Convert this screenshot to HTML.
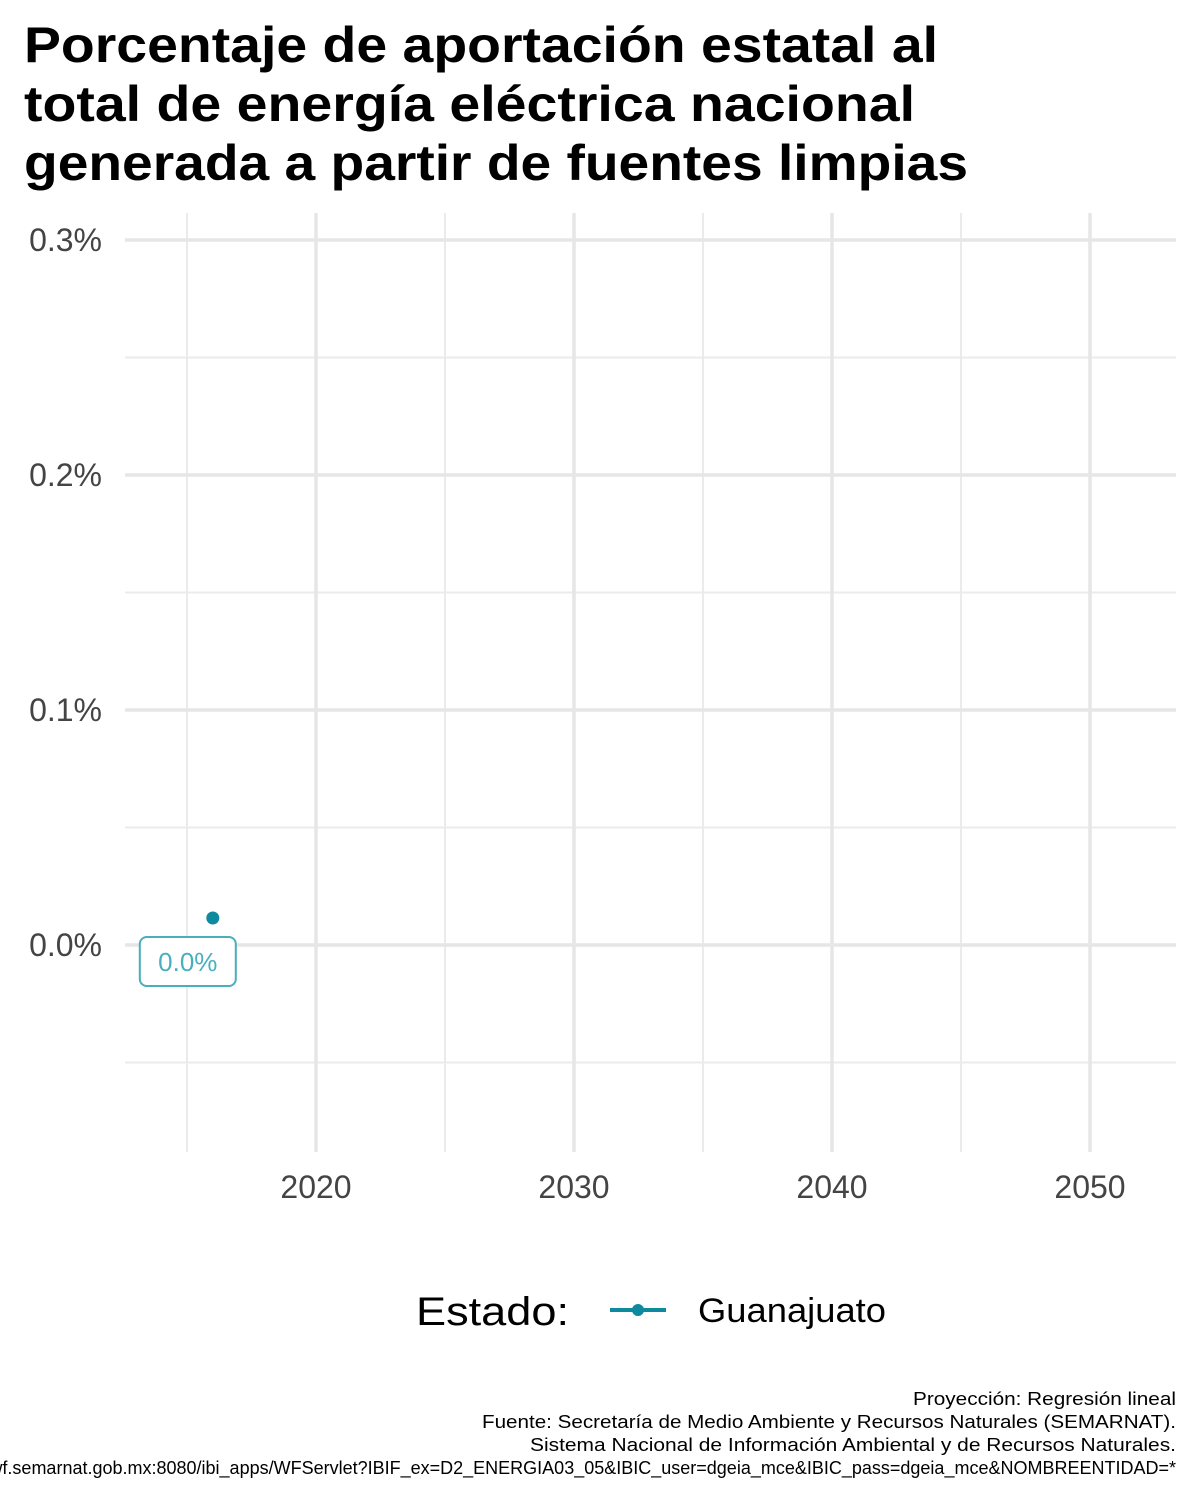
<!DOCTYPE html>
<html><head><meta charset="utf-8">
<style>
html,body{margin:0;padding:0;background:#fff;}
svg{display:block;font-family:"Liberation Sans",sans-serif;}
</style></head>
<body>
<svg id="chart" width="1200" height="1500" viewBox="0 0 1200 1500" xmlns="http://www.w3.org/2000/svg">
<g font-weight="bold" font-size="50" fill="#000">
<text x="24" y="62" textLength="914" lengthAdjust="spacingAndGlyphs">Porcentaje de aportación estatal al</text>
<text x="24" y="121" textLength="891" lengthAdjust="spacingAndGlyphs">total de energía eléctrica nacional</text>
<text x="24" y="180" textLength="944" lengthAdjust="spacingAndGlyphs">generada a partir de fuentes limpias</text>
</g>
<g id="grid"></g>
<g id="yticks" font-size="32" fill="#444" text-anchor="end"></g>
<g id="xticks" font-size="32" fill="#444" text-anchor="middle"></g>
<g id="marks"></g>
<g>
<text x="416" y="1325" font-size="40" fill="#000" textLength="153" lengthAdjust="spacingAndGlyphs">Estado:</text>
<line x1="610" y1="1310" x2="666" y2="1310" stroke="#0e8a9e" stroke-width="4"/>
<circle cx="638" cy="1310" r="6" fill="#0e8a9e"/>
<text x="698" y="1322" font-size="34" fill="#000" textLength="188" lengthAdjust="spacingAndGlyphs">Guanajuato</text>
</g>
<g font-size="18" fill="#000" text-anchor="end">
<text x="1176" y="1405" textLength="263" lengthAdjust="spacingAndGlyphs">Proyección: Regresión lineal</text>
<text x="1176" y="1428" textLength="694" lengthAdjust="spacingAndGlyphs">Fuente: Secretaría de Medio Ambiente y Recursos Naturales (SEMARNAT).</text>
<text x="1176" y="1451" textLength="646" lengthAdjust="spacingAndGlyphs">Sistema Nacional de Información Ambiental y de Recursos Naturales.</text>
<text x="1176" y="1474">http://dgeiawf.semarnat.gob.mx:8080/ibi_apps/WFServlet?IBIF_ex=D2_ENERGIA03_05&amp;IBIC_user=dgeia_mce&amp;IBIC_pass=dgeia_mce&amp;NOMBREENTIDAD=*</text>
</g>
</svg>
<script>
const years = [2016];
const values = [0.0115];
const labels = ["0.0%"];
const yTicks = [0, 0.1, 0.2, 0.3];
const yTickLabels = ["0.0%", "0.1%", "0.2%", "0.3%"];
const yMinor = [-0.05, 0.05, 0.15, 0.25];
const xTicks = [2020, 2030, 2040, 2050];
const xTickLabels = ["2020", "2030", "2040", "2050"];
const xMinor = [2015, 2025, 2035, 2045];

const NS = "http://www.w3.org/2000/svg";
const xs = y => 316 + (y - 2020) * 25.8;
const ys = v => 945 - v * 2350;
const L = 125, R = 1176, T = 213, B = 1152;
function mk(tag, attrs, parent) {
  const e = document.createElementNS(NS, tag);
  for (const k in attrs) e.setAttribute(k, attrs[k]);
  parent.appendChild(e);
  return e;
}
const grid = document.getElementById("grid");
yMinor.forEach(v => {
  const l = mk("line", {x1: L, x2: R, y1: ys(v), y2: ys(v), stroke: "#ebebeb", "stroke-width": 2}, grid);
  
  
});
xMinor.forEach(v => {
  const l = mk("line", {x1: xs(v), x2: xs(v), y1: T, y2: B, stroke: "#ebebeb", "stroke-width": 2}, grid);
  
  
});
yTicks.forEach(v => {
  const l = mk("line", {x1: L, x2: R, y1: ys(v), y2: ys(v), stroke: "#e6e6e6", "stroke-width": 3.5}, grid);
  
  
});
xTicks.forEach(v => {
  const l = mk("line", {x1: xs(v), x2: xs(v), y1: T, y2: B, stroke: "#e6e6e6", "stroke-width": 3.5}, grid);
  
  
});
const yt = document.getElementById("yticks");
yTicks.forEach((v, i) => {
  const t = mk("text", {x: 102, y: ys(v) + 11}, yt);
  t.textContent = yTickLabels[i];
  
  
});
const xt = document.getElementById("xticks");
xTicks.forEach((v, i) => {
  const t = mk("text", {x: xs(v), y: 1198}, xt);
  t.textContent = xTickLabels[i];
  
  
});
const marks = document.getElementById("marks");
years.forEach((yr, i) => {
  const c = mk("circle", {cx: xs(yr), cy: ys(values[i]), r: 6.5, fill: "#0e8a9e"}, marks);
  
  
  const bx = xs(yr) - 25, by = ys(values[i]) + 44;
  const r = mk("rect", {x: bx - 48, y: by - 25, width: 96, height: 49, rx: 7, fill: "#fff", stroke: "#4aaebd", "stroke-width": 2}, marks);
  
  
  const t = mk("text", {x: bx, y: by + 9, "text-anchor": "middle", "font-size": 26, fill: "#4aaebd"}, marks);
  t.textContent = labels[i];
  
  
});
</script>
</body></html>
